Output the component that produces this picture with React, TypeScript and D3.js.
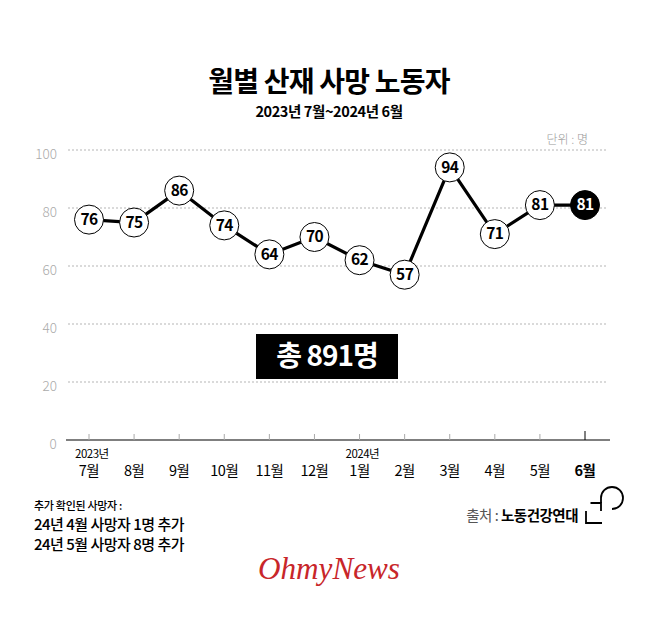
import React, { useEffect, useRef } from "react";
import * as d3 from "d3";

// data
const months = ["7월", "8월", "9월", "10월", "11월", "12월", "1월", "2월", "3월", "4월", "5월", "6월"];
const deaths = [76, 75, 86, 74, 64, 70, 62, 57, 94, 71, 81, 81];
const yearMarks = [
  { month: "7월", label: "2023년" },
  { month: "1월", label: "2024년" },
];
const yTicks = [0, 20, 40, 60, 80, 100];
const notes = ["24년 4월 사망자 1명 추가", "24년 5월 사망자 8명 추가"];

const FONT = "'Noto Sans CJK KR', 'Noto Sans', sans-serif";

const App = () => {
  const svgRef = useRef<SVGSVGElement>(null);

  useEffect(() => {
    const svg = d3.select(svgRef.current);
    svg.selectAll("*").remove();

    const width = 658;
    const height = 631;
    const margin = { left: 68, right: 50, top: 150, bottom: 191 };

    svg.append("rect").attr("width", width).attr("height", height).attr("fill", "#fff");

    const x = d3.scalePoint<string>().domain(months).range([89, 585]);
    const y = d3
      .scaleLinear()
      .domain([0, 100])
      .range([height - margin.bottom, margin.top]);

    // title
    svg
      .append("text")
      .attr("x", width / 2)
      .attr("y", 92)
      .attr("text-anchor", "middle")
      .attr("font-family", FONT)
      .attr("font-weight", 700)
      .attr("font-size", 28)
      .attr("letter-spacing", -0.8)
      .text("월별 산재 사망 노동자");

    svg
      .append("text")
      .attr("x", width / 2)
      .attr("y", 117)
      .attr("text-anchor", "middle")
      .attr("font-family", FONT)
      .attr("font-weight", 700)
      .attr("font-size", 14.5)
      .attr("letter-spacing", -0.4)
      .text("2023년 7월~2024년 6월");

    svg
      .append("text")
      .attr("x", 588)
      .attr("y", 144)
      .attr("text-anchor", "end")
      .attr("font-family", FONT)
      .attr("font-weight", 300)
      .attr("font-size", 12)
      .attr("fill", "#999")
      .text("단위 : 명");

    // grid
    const grid = svg.append("g");
    grid
      .selectAll("line")
      .data(yTicks.filter((d) => d > 0))
      .join("line")
      .attr("x1", margin.left)
      .attr("x2", width - margin.right)
      .attr("y1", (d) => y(d))
      .attr("y2", (d) => y(d))
      .attr("stroke", "#b5b5b5")
      .attr("stroke-width", 1)
      .attr("stroke-dasharray", "2,2");

    grid
      .selectAll("text")
      .data(yTicks)
      .join("text")
      .attr("x", (d) => (d === 0 ? 53 : 57))
      .attr("y", (d) => y(d) + 5)
      .attr("text-anchor", (d) => (d === 0 ? "middle" : "end"))
      .attr("dominant-baseline", "middle")
      .attr("font-family", FONT)
      .attr("font-weight", 300)
      .attr("font-size", 13.5)
      .attr("fill", "#aaa")
      .text((d) => d);

    // baseline + ticks
    svg
      .append("line")
      .attr("x1", margin.left - 2)
      .attr("x2", width - margin.right + 2)
      .attr("y1", y(0))
      .attr("y2", y(0))
      .attr("stroke", "#555")
      .attr("stroke-width", 1.5);

    svg
      .append("g")
      .selectAll("line")
      .data(months)
      .join("line")
      .attr("x1", (d) => x(d)!)
      .attr("x2", (d) => x(d)!)
      .attr("y1", (d, i) => y(0) - (i === months.length - 1 ? 9 : 6))
      .attr("y2", y(0))
      .attr("stroke", (d, i) => (i === months.length - 1 ? "#000" : "#aaa"))
      .attr("stroke-width", 1);

    // month labels
    svg
      .append("g")
      .selectAll("text")
      .data(months)
      .join("text")
      .attr("x", (d) => x(d)!)
      .attr("y", 476)
      .attr("text-anchor", "middle")
      .attr("font-family", FONT)
      .attr("font-weight", (d, i) => (i === months.length - 1 ? 700 : 400))
      .attr("font-size", 14.5)
      .attr("letter-spacing", -0.5)
      .text((d) => d);

    svg
      .append("g")
      .selectAll("text")
      .data(yearMarks)
      .join("text")
      .attr("x", (d) => x(d.month)! - 14)
      .attr("y", 458)
      .attr("font-family", FONT)
      .attr("font-size", 11.5)
      .attr("letter-spacing", -0.5)
      .text((d) => d.label);

    // total box
    const total = d3.sum(deaths);
    svg
      .append("rect")
      .attr("x", 256)
      .attr("y", y(20) - 48)
      .attr("width", 142)
      .attr("height", 45)
      .attr("fill", "#000");
    svg
      .append("text")
      .attr("x", 327)
      .attr("y", y(20) - 16)
      .attr("text-anchor", "middle")
      .attr("font-family", FONT)
      .attr("font-weight", 700)
      .attr("font-size", 28)
      .attr("letter-spacing", -1)
      .attr("fill", "#fff")
      .text(`총 ${total}명`);

    // line
    const line = d3
      .line<number>()
      .x((d, i) => x(months[i])!)
      .y((d) => y(d));

    svg
      .append("path")
      .datum(deaths)
      .attr("fill", "none")
      .attr("stroke", "#000")
      .attr("stroke-width", 3.2)
      .attr("d", line);

    const pts = svg
      .append("g")
      .selectAll("g")
      .data(deaths)
      .join("g")
      .attr("transform", (d, i) => `translate(${x(months[i])},${y(d)})`);

    const last = deaths.length - 1;
    pts
      .append("circle")
      .attr("r", 14.5)
      .attr("fill", (d, i) => (i === last ? "#000" : "#fff"))
      .attr("stroke", "#000")
      .attr("stroke-width", 1);

    pts
      .append("text")
      .attr("y", 1)
      .attr("text-anchor", "middle")
      .attr("dominant-baseline", "middle")
      .attr("font-family", FONT)
      .attr("font-weight", 700)
      .attr("font-size", 15.5)
      .attr("letter-spacing", -0.6)
      .attr("fill", (d, i) => (i === last ? "#fff" : "#000"))
      .text((d) => d);

    // notes
    svg
      .append("text")
      .attr("x", 34)
      .attr("y", 510)
      .attr("font-family", FONT)
      .attr("font-weight", 500)
      .attr("font-size", 11)
      .attr("letter-spacing", -0.3)
      .text("추가 확인된 사망자 :");

    svg
      .append("g")
      .selectAll("text")
      .data(notes)
      .join("text")
      .attr("x", 34)
      .attr("y", (d, i) => 530 + i * 20)
      .attr("font-family", FONT)
      .attr("font-weight", 500)
      .attr("font-size", 15)
      .attr("letter-spacing", -0.5)
      .text((d) => d);

    // source
    const src = svg
      .append("text")
      .attr("x", 578)
      .attr("y", 521)
      .attr("text-anchor", "end")
      .attr("font-family", FONT)
      .attr("font-size", 14.5)
      .attr("letter-spacing", -0.5);
    src.append("tspan").attr("fill", "#555").attr("font-weight", 400).text("출처 : ");
    src.append("tspan").attr("fill", "#000").attr("font-weight", 700).text("노동건강연대");

    // source logo
    const logo = svg
      .append("g")
      .attr("fill", "none")
      .attr("stroke", "#000")
      .attr("stroke-width", 1.8);
    logo.append("path").attr("d", "M586,511 V523 H602");
    logo.append("path").attr("d", "M590.5,503 H601 V511");
    logo.append("path").attr("d", "M601,503 V498 A11,11 0 1,1 612,509");

    // OhmyNews mark
    svg
      .append("text")
      .attr("x", width / 2)
      .attr("y", 579)
      .attr("text-anchor", "middle")
      .attr("font-family", "'Liberation Serif', serif")
      .attr("font-style", "italic")
      .attr("font-size", 31)
      .attr("textLength", 142)
      .attr("lengthAdjust", "spacingAndGlyphs")
      .attr("fill", "#c8262a")
      .text("OhmyNews");
  }, []);

  return (
    <svg
      ref={svgRef}
      width={658}
      height={631}
      style={{ position: "absolute", left: 0, top: 0, display: "block" }}
    ></svg>
  );
};

export default App;
